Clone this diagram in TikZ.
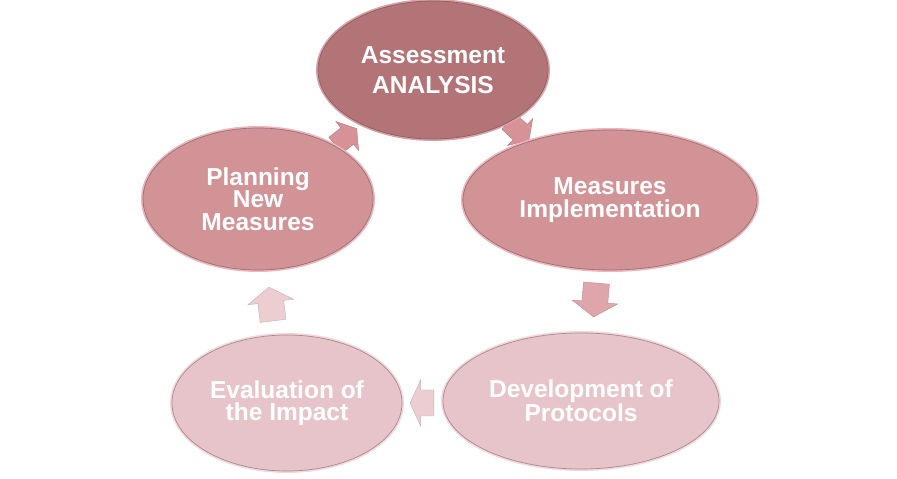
\documentclass[tikz,border=0pt]{standalone}
\usepackage{fontspec}
\setmainfont{Liberation Sans}
\usetikzlibrary{shapes.geometric}
\definecolor{cA}{RGB}{178,116,118}
\definecolor{cM}{RGB}{210,147,150}
\definecolor{cD}{RGB}{231,196,201}
\definecolor{rimcA}{RGB}{222,160,165}
\definecolor{rimcM}{RGB}{240,180,185}
\definecolor{rimcD}{RGB}{246,214,220}
\definecolor{arA}{RGB}{214,146,150}
\definecolor{arM}{RGB}{222,166,171}
\definecolor{arD}{RGB}{236,205,210}
\tikzset{
  bub/.style n args={3}{ellipse, inner sep=0pt, minimum width=#1, minimum height=#2,
    fill=#3, draw=#3!75!black!70!gray, line width=0.7pt,
    preaction={draw=rim#3, line width=4pt},
    text=white, align=center,
    font=\fontsize{24.5}{22.5}\selectfont\bfseries},
  pics/barrow/.style={code={
    \path[fill=#1, draw=#1!85!black, line width=0.4pt]
      (-17,-13) -- (2,-13) -- (2,-23) -- (17,0) -- (2,23) -- (2,13) -- (-17,13) -- cycle;}}
}
\begin{document}
\begin{tikzpicture}[x=1pt,y=1pt]
\useasboundingbox (0,0) rectangle (897,479);
% arrows (drawn below the ellipses)
\pic[rotate=-43, scale=0.8] (ar1) at (519,348) {barrow=arA};
\pic[rotate=-95] (ar2) at (595,179) {barrow=arM};
\pic[rotate=180, xscale=0.7] (ar3) at (422,76) {barrow=arD};
\pic[rotate=97] (ar4) at (271,175) {barrow=arD};
\pic[rotate=38, scale=0.8] (ar5) at (346,342) {barrow=arA};
% ellipses
\node[bub={230pt}{138pt}{cA}] (A) at (433,409) {Assessment\\[7.5pt]ANALYSIS};
\node[bub={294pt}{140pt}{cM}] (M) at (610,279) {Measures\\Implementation};
\node[bub={276pt}{136pt}{cD}] (D) at (581,78) {Development of\\Protocols};
\node[bub={230pt}{136pt}{cD}] (E) at (287,76) {Evaluation of\\the Impact};
\node[bub={230pt}{142pt}{cM}] (P) at (258,280) {Planning\\New\\Measures};
\end{tikzpicture}
\end{document}
